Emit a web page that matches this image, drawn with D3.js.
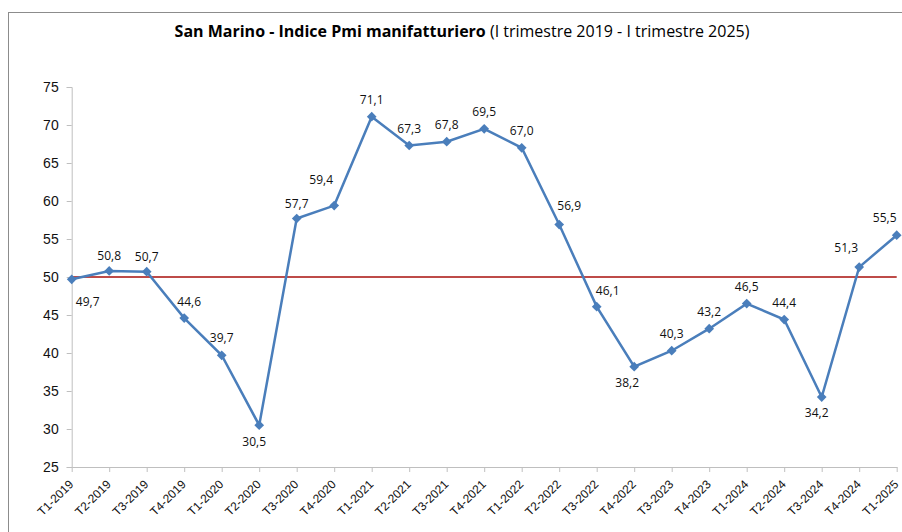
<!DOCTYPE html>
<html>
<head>
<meta charset="utf-8">
<script src="https://cdn.jsdelivr.net/npm/d3@7"></script>
<style>
  body { margin: 0; background: #fff; }
  svg { display: block; font-family: "Open Sans", "DejaVu Sans", sans-serif; }
</style>
</head>
<body>
<svg class="chart"></svg>
<script>
const quarters = ["T1-2019", "T2-2019", "T3-2019", "T4-2019", "T1-2020", "T2-2020", "T3-2020", "T4-2020",
  "T1-2021", "T2-2021", "T3-2021", "T4-2021", "T1-2022", "T2-2022", "T3-2022", "T4-2022",
  "T3-2023", "T4-2023", "T1-2024", "T2-2024", "T3-2024", "T4-2024", "T1-2025"];
const pmi = [49.7, 50.8, 50.7, 44.6, 39.7, 30.5, 57.7, 59.4, 71.1, 67.3, 67.8, 69.5, 67.0,
  56.9, 46.1, 38.2, 40.3, 43.2, 46.5, 44.4, 34.2, 51.3, 55.5];
const yTicks = [25, 30, 35, 40, 45, 50, 55, 60, 65, 70, 75];
const threshold = 50;

// where each value label sits relative to its point (dx, dy)
const labelOffsets = [[16, 23], [0, -15], [0, -15], [5, -16], [0, -17], [-5, 17], [0, -15], [-13, -26],
  [0, -17], [0, -17], [0, -17], [0, -17], [0, -17], [10, -19], [11, -16], [-7, 16],
  [0, -17], [0, -17], [0, -17], [0, -17], [-5, 16], [-13, -19], [-12, -17]];

const width = 902, height = 532;
const plotLeft = 71.7, plotRight = 896.7, plotTop = 87, plotBottom = 467;

const svg = d3.select(".chart").attr("width", width).attr("height", height);

// outer frame
svg.append("rect")
  .attr("x", 8.5).attr("y", 12.5)
  .attr("width", 1000).attr("height", 600)
  .attr("fill", "none").attr("stroke", "#8c8c8c");

const title = svg.append("text")
  .attr("x", 462).attr("y", 37)
  .attr("text-anchor", "middle")
  .attr("font-size", 16)
  .attr("fill", "#000");
title.append("tspan").attr("font-weight", "bold").text("San Marino - Indice Pmi manifatturiero");
title.append("tspan").text(" (I trimestre 2019 - I trimestre 2025)");

const x = d3.scalePoint().domain(quarters).range([plotLeft, plotRight]);
const y = d3.scaleLinear().domain([25, 75]).range([plotBottom, plotTop]);

const yAxis = svg.append("g")
  .attr("transform", "translate(" + plotLeft + ",0)")
  .call(d3.axisLeft(y).tickValues(yTicks).tickSize(5).tickPadding(8));
yAxis.select(".domain").attr("stroke", "#bfbfbf");
yAxis.selectAll(".tick line").attr("stroke", "#bfbfbf");
yAxis.selectAll("text").attr("font-size", 14).attr("fill", "#111");

const xAxis = svg.append("g")
  .attr("transform", "translate(0," + plotBottom + ")")
  .call(d3.axisBottom(x).tickSize(5).tickSizeOuter(0));
xAxis.select(".domain").attr("stroke", "#bfbfbf");
xAxis.selectAll(".tick line").attr("stroke", "#bfbfbf");
xAxis.selectAll("text")
  .attr("font-size", 12).attr("fill", "#111")
  .attr("text-anchor", "end")
  .attr("x", 0).attr("y", 0).attr("dy", "0.35em")
  .attr("transform", "translate(-1,15) rotate(-45)");

// threshold line
svg.append("line")
  .attr("x1", plotLeft).attr("x2", plotRight)
  .attr("y1", y(threshold)).attr("y2", y(threshold))
  .attr("stroke", "#be4b48").attr("stroke-width", 2);

const line = d3.line()
  .x(function(d, i) { return x(quarters[i]); })
  .y(function(d) { return y(d); });

svg.append("path")
  .datum(pmi)
  .attr("d", line)
  .attr("fill", "none")
  .attr("stroke", "#4a7ebb")
  .attr("stroke-width", 2.5);

svg.selectAll(".marker")
  .data(pmi)
  .enter().append("path")
    .attr("class", "marker")
    .attr("d", d3.symbol().type(d3.symbolDiamond2).size(60))
    .attr("transform", function(d, i) { return "translate(" + x(quarters[i]) + "," + y(d) + ")"; })
    .attr("fill", "#4a7ebb");

svg.selectAll(".val")
  .data(pmi)
  .enter().append("text")
    .attr("class", "val")
    .attr("x", function(d, i) { return x(quarters[i]) + labelOffsets[i][0]; })
    .attr("y", function(d, i) { return y(d) + labelOffsets[i][1]; })
    .attr("dy", "0.35em")
    .attr("text-anchor", "middle")
    .attr("font-size", 12)
    .attr("fill", "#111")
    .text(function(d) { return d.toFixed(1).replace(".", ","); });
</script>
</body>
</html>
